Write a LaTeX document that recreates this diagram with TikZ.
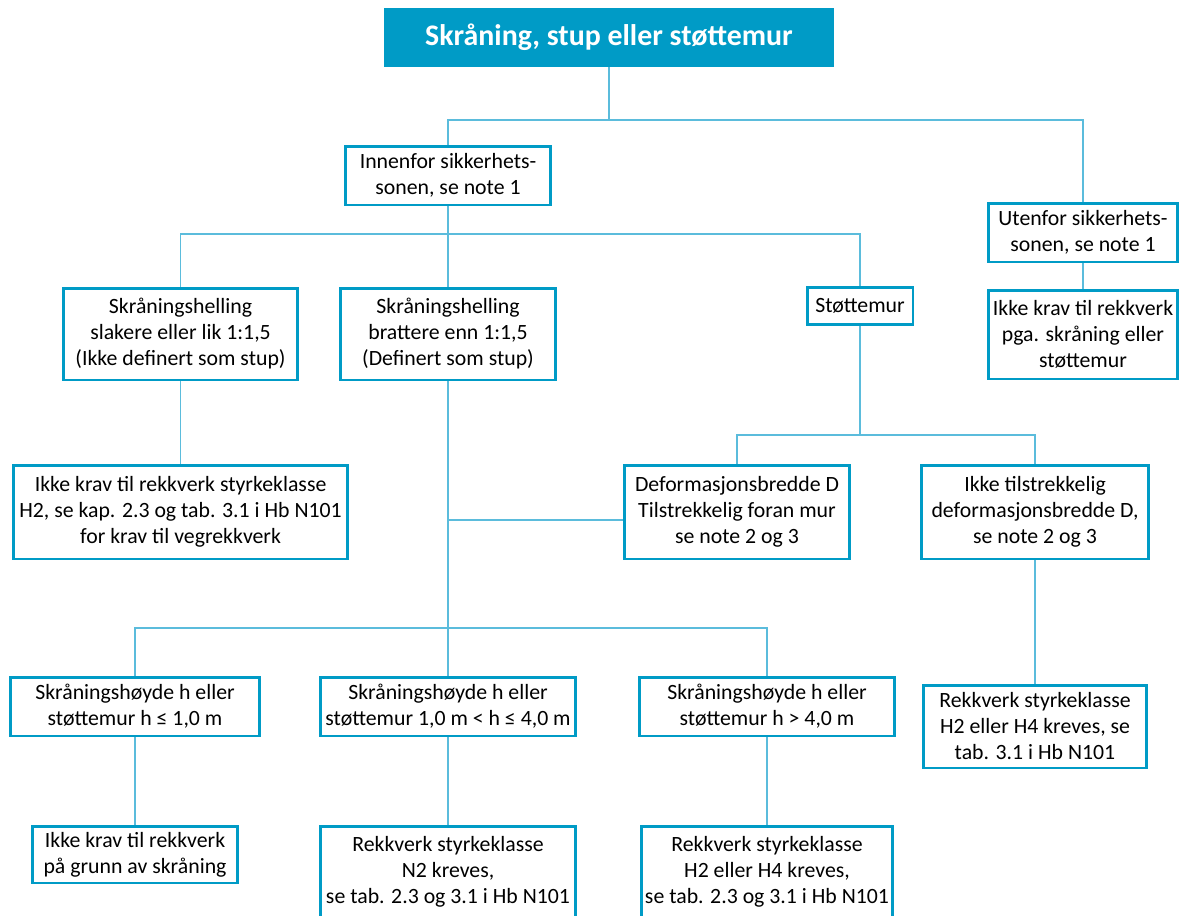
\documentclass[tikz,border=0pt]{standalone}
\usepackage{fontspec}
\setmainfont{Carlito}
\usetikzlibrary{positioning}
\definecolor{svvblue}{HTML}{009BC6}
\definecolor{svvline}{HTML}{5BBCDC}
\tikzset{bx/.append style={draw=svvblue, line width=1.7pt, fill=white, align=center, inner sep=0pt, font=\fontsize{12.4}{14.8}\selectfont}}
\tikzset{ln/.append style={draw=svvline, line width=0.9pt}}
\tikzset{hd/.append style={fill=svvblue, text=white, inner sep=0pt, font=\fontsize{17}{20}\selectfont\bfseries}}

\begin{document}
\begin{tikzpicture}[x=0.02cm,y=-0.02cm]
                \useasboundingbox (0,0) rectangle (1184,916);
                % boxes
                \node[hd, minimum width=9cm, minimum height=1.18cm] (top) at (609,37.5) {Skråning, stup eller støttemur};
                \node[bx, minimum width=4.12cm, minimum height=1.18cm] (inn) at (448,175.5) {Innenfor sikkerhets-\\sonen, se note 1};
                \node[bx, minimum width=3.8cm, minimum height=1.18cm] (ut) at (1083,232.5) {Utenfor sikkerhets-\\sonen, se note 1};
                \node[bx, minimum width=3.8cm, minimum height=1.78cm] (utres) at (1083,334.5) {Ikke krav til rekkverk\\pga. skråning eller\\støttemur};
                \node[bx, minimum width=4.7cm, minimum height=1.84cm] (slak) at (180.5,334) {Skråningshelling\\slakere eller lik 1:1,5\\(Ikke definert som stup)};
                \node[bx, minimum width=4.3cm, minimum height=1.84cm] (bratt) at (448,334) {Skråningshelling\\brattere enn 1:1,5\\(Definert som stup)};
                \node[bx, minimum width=2.12cm, minimum height=0.74cm] (stotte) at (860,306) {Støttemur};
                \node[bx, minimum width=6.68cm, minimum height=1.88cm] (ikke1) at (180.5,512) {Ikke krav til rekkverk styrkeklasse\\H2, se kap. 2.3 og tab. 3.1 i Hb N101\\for krav til vegrekkverk};
                \node[bx, minimum width=4.52cm, minimum height=1.88cm] (def) at (737,512) {Deformasjonsbredde D\\Tilstrekkelig foran mur\\se note 2 og 3};
                \node[bx, minimum width=4.54cm, minimum height=1.88cm] (ikketils) at (1035,512) {Ikke tilstrekkelig\\deformasjonsbredde D,\\se note 2 og 3};
                \node[bx, minimum width=5cm, minimum height=1.18cm] (h1) at (135,706.5) {Skråningshøyde h eller\\støttemur h ≤ 1,0 m};
                \node[bx, minimum width=5.12cm, minimum height=1.18cm] (h2) at (448,706.5) {Skråningshøyde h eller\\støttemur 1,0 m < h ≤ 4,0 m};
                \node[bx, minimum width=5.12cm, minimum height=1.18cm] (h3) at (767,706.5) {Skråningshøyde h eller\\støttemur h > 4,0 m};
                \node[bx, minimum width=4.46cm, minimum height=1.66cm] (rh) at (1035,726.5) {Rekkverk styrkeklasse\\H2 eller H4 kreves, se\\tab. 3.1 i Hb N101};
                \node[bx, minimum width=4.12cm, minimum height=1.14cm] (b1) at (135,854.5) {Ikke krav til rekkverk\\på grunn av skråning};
                \node[bx, minimum width=5.12cm, minimum height=1.84cm] (b2) at (448,872) {Rekkverk styrkeklasse\\N2 kreves,\\se tab. 2.3 og 3.1 i Hb N101};
                \node[bx, minimum width=5.02cm, minimum height=1.84cm] (b3) at (767,872) {Rekkverk styrkeklasse\\H2 eller H4 kreves,\\se tab. 2.3 og 3.1 i Hb N101};
                % junctions
                \coordinate (j1) at (609,120);
                \coordinate (j2) at (448,234);
                \coordinate (j3) at (860,435);
                \coordinate (j4) at (448,628);
                \coordinate (j5) at (448,520);
                % lines
                \draw[ln] (top.south) -- (j1);
                \draw[ln] (inn.north) |- (j1) -| (ut.north);
                \draw[ln] (inn.south) -- (j2);
                \draw[ln] (slak.north) |- (j2) -| (stotte.north);
                \draw[ln] (j2) -- (bratt.north);
                \draw[ln] (ut.south) -- (utres.north);
                \draw[ln] (slak.south) -- (ikke1.north);
                \draw[ln] (stotte.south) -- (j3);
                \draw[ln] (def.north) |- (j3) -| (ikketils.north);
                \draw[ln] (bratt.south) -- (j4);
                \draw[ln] (j5) -- (def.west |- j5);
                \draw[ln] (h1.north) |- (j4) -| (h3.north);
                \draw[ln] (j4) -- (h2.north);
                \draw[ln] (h1.south) -- (b1.north);
                \draw[ln] (h2.south) -- (b2.north);
                \draw[ln] (h3.south) -- (b3.north);
                \draw[ln] (ikketils.south) -- (rh.north);
            \end{tikzpicture}
\end{document}
